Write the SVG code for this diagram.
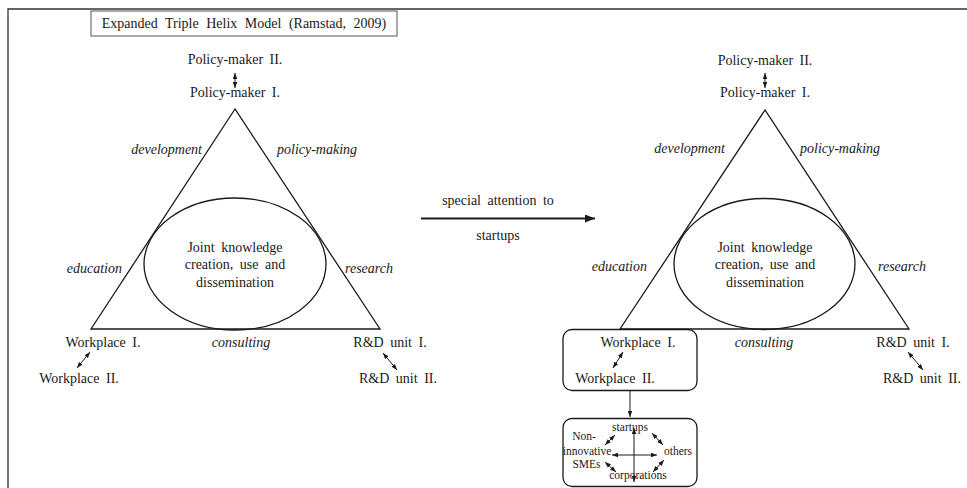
<svg xmlns="http://www.w3.org/2000/svg" width="967" height="488" viewBox="0 0 967 488">
<style>
text{font-family:'Liberation Serif','Times New Roman','DejaVu Serif',serif}
.t{font-size:14px;fill:#1a1a1a;text-anchor:middle;word-spacing:3px}
.i{font-style:italic;word-spacing:0}
.s{font-size:11.5px;word-spacing:0}
.ln{fill:none;stroke:#1a1a1a;stroke-width:1.3}
.th{fill:none;stroke:#1a1a1a;stroke-width:1}
</style>
<defs>
<marker id="ah" viewBox="0 0 8 6" refX="8" refY="3" markerWidth="6" markerHeight="5" orient="auto-start-reverse" markerUnits="userSpaceOnUse">
<path d="M0,0 L8,3 L0,6 z" fill="#1a1a1a"/>
</marker>
<marker id="big" viewBox="0 0 10 8" refX="10" refY="4" markerWidth="10" markerHeight="8" orient="auto" markerUnits="userSpaceOnUse">
<path d="M0,0 L10,4 L0,8 z" fill="#1a1a1a"/>
</marker>
</defs>
<rect width="967" height="488" fill="#fff"/>
<path d="M8,488 V9 H967" fill="none" stroke="#333" stroke-width="1.3"/>
<g id="title">
<rect x="91" y="11" width="306" height="25" fill="#fff" stroke="#555" stroke-width="1"/>
<text class="t" x="244" y="28" style="word-spacing:4px">Expanded Triple Helix Model (Ramstad, 2009)</text>
</g>
<g id="left-triangle">
<path class="ln" d="M235,109 L91,329 L380,329 Z"/>
<ellipse class="ln" cx="235" cy="264" rx="91" ry="66"/>
<text class="t" x="235" y="252">Joint knowledge</text>
<text class="t" x="235" y="269">creation, use and</text>
<text class="t" x="235" y="287">dissemination</text>
<text class="t i" x="202" y="154" style="text-anchor:end">development</text>
<text class="t i" x="277" y="154" style="text-anchor:start">policy-making</text>
<text class="t i" x="122" y="273" style="text-anchor:end">education</text>
<text class="t i" x="345" y="273" style="text-anchor:start">research</text>
<text class="t i" x="241" y="347">consulting</text>
</g>
<g id="left-policy-maker-2"><text class="t" x="235" y="64">Policy-maker II.</text></g>
<g id="left-policy-maker-1"><text class="t" x="235" y="97">Policy-maker I.</text></g>
<g id="left-workplace-1"><text class="t" x="103" y="347">Workplace I.</text></g>
<g id="left-workplace-2"><text class="t" x="79" y="383">Workplace II.</text></g>
<g id="left-rd-1"><text class="t" x="390" y="347">R&amp;D unit I.</text></g>
<g id="left-rd-2"><text class="t" x="398" y="383">R&amp;D unit II.</text></g>
<g id="transition">
<text class="t" x="498" y="205">special attention to</text>
<text class="t" x="498" y="240">startups</text>
</g>
<g id="right-triangle">
<path class="ln" d="M765,110 L620,329 L909,329 Z"/>
<ellipse class="ln" cx="764.5" cy="264" rx="90.5" ry="65.5"/>
<text class="t" x="765" y="252">Joint knowledge</text>
<text class="t" x="765" y="269">creation, use and</text>
<text class="t" x="765" y="287">dissemination</text>
<text class="t i" x="725" y="153" style="text-anchor:end">development</text>
<text class="t i" x="800" y="153" style="text-anchor:start">policy-making</text>
<text class="t i" x="647" y="271" style="text-anchor:end">education</text>
<text class="t i" x="878" y="271" style="text-anchor:start">research</text>
<text class="t i" x="764" y="347">consulting</text>
</g>
<g id="right-policy-maker-2"><text class="t" x="765" y="65">Policy-maker II.</text></g>
<g id="right-policy-maker-1"><text class="t" x="765" y="97">Policy-maker I.</text></g>
<g id="right-workplace">
<rect x="563" y="329.5" width="134" height="61" rx="9" class="ln" fill="#fff"/>
<text class="t" x="638" y="347">Workplace I.</text>
<text class="t" x="615" y="383">Workplace II.</text>
</g>
<g id="right-rd-1"><text class="t" x="913" y="347">R&amp;D unit I.</text></g>
<g id="right-rd-2"><text class="t" x="922" y="383">R&amp;D unit II.</text></g>
<g id="firm-types">
<rect x="563" y="418.5" width="134" height="68" rx="9" class="ln"/>
<text class="t s" x="630" y="431">startups</text>
<text class="t s" x="584" y="440">Non-</text>
<text class="t s" x="587" y="455">innovative</text>
<text class="t s" x="586.5" y="467.5">SMEs</text>
<text class="t s" x="638" y="479">corporations</text>
<text class="t s" x="678" y="455">others</text>
</g>
<g id="connectors">
<line class="th" x1="235" y1="73" x2="235" y2="88" marker-start="url(#ah)" marker-end="url(#ah)"/>
<line class="th" x1="90" y1="352" x2="77" y2="368" marker-start="url(#ah)" marker-end="url(#ah)"/>
<line class="th" x1="383" y1="353" x2="397" y2="370" marker-start="url(#ah)" marker-end="url(#ah)"/>
<line x1="421" y1="218.5" x2="595" y2="218.5" stroke="#1a1a1a" stroke-width="2.2" marker-end="url(#big)"/>
<line class="th" x1="765" y1="73" x2="765" y2="88" marker-start="url(#ah)" marker-end="url(#ah)"/>
<line class="th" x1="623" y1="352" x2="613" y2="368" marker-start="url(#ah)" marker-end="url(#ah)"/>
<line class="th" x1="908" y1="352" x2="923" y2="370" marker-start="url(#ah)" marker-end="url(#ah)"/>
<line class="th" x1="630" y1="391" x2="630" y2="417" marker-end="url(#ah)"/>
<line class="th" x1="634" y1="428" x2="634" y2="482" marker-start="url(#ah)" marker-end="url(#ah)"/>
<line class="th" x1="612" y1="455" x2="657" y2="455" marker-start="url(#ah)" marker-end="url(#ah)"/>
<line class="th" x1="605" y1="445" x2="615" y2="435" marker-start="url(#ah)" marker-end="url(#ah)"/>
<line class="th" x1="652" y1="433" x2="663" y2="445" marker-start="url(#ah)" marker-end="url(#ah)"/>
<line class="th" x1="605" y1="462" x2="616" y2="472" marker-start="url(#ah)" marker-end="url(#ah)"/>
<line class="th" x1="653" y1="472" x2="664" y2="460" marker-start="url(#ah)" marker-end="url(#ah)"/>
</g>
</svg>
